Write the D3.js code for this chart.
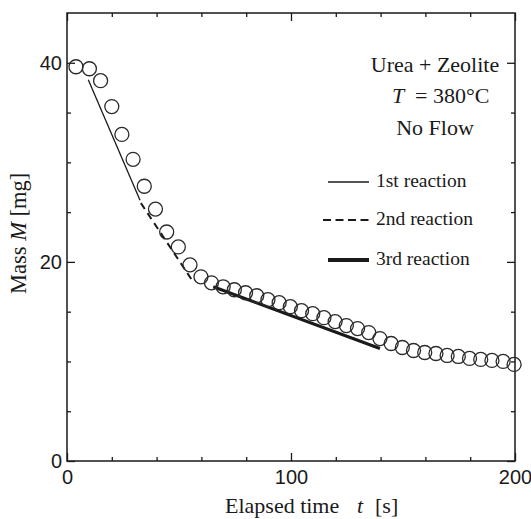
<!DOCTYPE html>
<html>
<head>
<meta charset="utf-8">
<script src="https://cdn.jsdelivr.net/npm/d3@7"></script>
<style>
  body { margin: 0; background: #fff; }
  svg { display: block; }
</style>
</head>
<body>
<div id="chart"></div>
<script>
// measured points (elapsed time [s], mass [mg])
var timeS = [4, 10, 15, 20, 24.5, 29.5, 34.5, 39.5, 44.5, 49.7, 54.9, 59.8, 64.5, 69.7,
  74.7, 79.7, 84.7, 89.7, 94.7, 99.7, 104.7, 109.7, 114.7, 119.7, 124.7, 129.7, 134.7,
  139.7, 144.7, 149.7, 154.7, 159.7, 164.7, 169.7, 174.7, 179.7, 184.7, 189.7, 194.7, 199.6];
var massMg = [39.6, 39.4, 38.2, 35.6, 32.8, 30.3, 27.6, 25.3, 23.0, 21.5, 19.7, 18.5, 17.9, 17.5,
  17.2, 16.9, 16.6, 16.2, 15.9, 15.5, 15.1, 14.8, 14.4, 14.0, 13.6, 13.3, 12.9,
  12.3, 11.8, 11.4, 11.1, 10.9, 10.8, 10.6, 10.5, 10.3, 10.2, 10.1, 10.0, 9.7];

// fitted reaction lines [t, M]
var reaction1 = [[9.5, 38.3], [32.6, 26.2]];
var reaction2 = [[33, 25.9], [56.3, 18.0]];
var reaction3 = [[65.3, 17.5], [139.7, 11.3]];

var legendNames = ["1st reaction", "2nd reaction", "3rd reaction"];
var infoLines = ["Urea + Zeolite", "T", "= 380°C", "No Flow"];

var xMajor = [0, 100, 200];
var xMinor = [20, 40, 60, 80, 120, 140, 160, 180];
var yMajor = [0, 20, 40];
var yMinor = [5, 10, 15, 25, 30, 35];

var W = 531, H = 519;
var pL = 67, pT = 13, pR = 515, pB = 461;
var serif = "'Liberation Serif', 'Times New Roman', serif";
var sans = "'Liberation Sans', Arial, sans-serif";
var ink = "#1a1a1a";

var svg = d3.select("#chart").append("svg").attr("width", W).attr("height", H);

var x = d3.scaleLinear().domain([0, 200]).range([pL, pR]);
var y = d3.scaleLinear().domain([0, 45]).range([pB, pT]);

// axes, ticks pointing inward
function styleAxis(g, size) {
  g.select(".domain").remove();
  g.selectAll(".tick line").attr("stroke", ink).attr("stroke-width", 1.3);
  g.selectAll("text").attr("fill", ink).style("font-family", sans).style("font-size", size + "px");
}

svg.append("g").attr("transform", "translate(0," + pB + ")")
  .call(d3.axisBottom(x).tickValues(xMajor).tickSize(-8).tickPadding(9).tickFormat(d3.format("d")))
  .call(styleAxis, 20);
svg.append("g").attr("transform", "translate(0," + pB + ")")
  .call(d3.axisBottom(x).tickValues(xMinor).tickSize(-4).tickFormat(""))
  .call(styleAxis, 20);
svg.append("g").attr("transform", "translate(0," + pT + ")")
  .call(d3.axisTop(x).tickValues(xMajor).tickSize(-8).tickFormat(""))
  .call(styleAxis, 20);
svg.append("g").attr("transform", "translate(0," + pT + ")")
  .call(d3.axisTop(x).tickValues(xMinor).tickSize(-4).tickFormat(""))
  .call(styleAxis, 20);

svg.append("g").attr("transform", "translate(" + pL + ",0)")
  .call(d3.axisLeft(y).tickValues(yMajor).tickSize(-8).tickPadding(5).tickFormat(d3.format("d")))
  .call(styleAxis, 20);
svg.append("g").attr("transform", "translate(" + pL + ",0)")
  .call(d3.axisLeft(y).tickValues(yMinor).tickSize(-4).tickFormat(""))
  .call(styleAxis, 20);
svg.append("g").attr("transform", "translate(" + pR + ",0)")
  .call(d3.axisRight(y).tickValues(yMajor).tickSize(-8).tickFormat(""))
  .call(styleAxis, 20);
svg.append("g").attr("transform", "translate(" + pR + ",0)")
  .call(d3.axisRight(y).tickValues(yMinor).tickSize(-4).tickFormat(""))
  .call(styleAxis, 20);

// frame
svg.append("rect")
  .attr("x", pL).attr("y", pT)
  .attr("width", pR - pL).attr("height", pB - pT)
  .attr("fill", "none").attr("stroke", ink).attr("stroke-width", 1.5);

// reaction fits
var line = d3.line().x(function(d){ return x(d[0]) }).y(function(d){ return y(d[1]) });

svg.append("path").datum(reaction1).attr("d", line)
  .attr("fill", "none").attr("stroke", ink).attr("stroke-width", 1.3);
svg.append("path").datum(reaction2).attr("d", line)
  .attr("fill", "none").attr("stroke", ink).attr("stroke-width", 2)
  .attr("stroke-dasharray", "7,5");
svg.append("path").datum(reaction3).attr("d", line)
  .attr("fill", "none").attr("stroke", ink).attr("stroke-width", 3.2);

// data circles
svg.append("g").selectAll("circle")
  .data(timeS.map(function(t, i){ return [t, massMg[i]] }))
  .join("circle")
  .attr("cx", function(d){ return x(d[0]) })
  .attr("cy", function(d){ return y(d[1]) })
  .attr("r", 7)
  .attr("fill", "none")
  .attr("stroke", "#2a2a2a")
  .attr("stroke-width", 1.3);

// condition text block
var info = svg.append("g").attr("font-family", serif).attr("font-size", 22).attr("fill", ink);
info.append("text").attr("x", 435).attr("y", 72).attr("text-anchor", "middle").text(infoLines[0]);
info.append("text").attr("x", 392).attr("y", 103).style("font-style", "italic").text(infoLines[1]);
info.append("text").attr("x", 415).attr("y", 103).text(infoLines[2]);
info.append("text").attr("x", 435).attr("y", 135).attr("text-anchor", "middle").text(infoLines[3]);

// legend
var legendY = [182, 220, 260];
var legendStyle = [
  { w: 1.3, dash: null, x0: 328 },
  { w: 2, dash: "8,4.5", x0: 323 },
  { w: 4, dash: null, x0: 328 }
];
var leg = svg.append("g");
legendNames.forEach(function(name, i){
  leg.append("line")
    .attr("x1", legendStyle[i].x0).attr("x2", 369)
    .attr("y1", legendY[i]).attr("y2", legendY[i])
    .attr("stroke", ink).attr("stroke-width", legendStyle[i].w)
    .attr("stroke-dasharray", legendStyle[i].dash);
  leg.append("text")
    .attr("x", 376).attr("y", legendY[i] + 5)
    .attr("font-family", serif).attr("font-size", 19.5).attr("fill", ink)
    .text(name);
});

// axis titles
var xt = svg.append("text")
  .attr("x", 225).attr("y", 513)
  .attr("font-family", serif).attr("font-size", 22).attr("fill", ink);
xt.append("tspan").text("Elapsed time");
xt.append("tspan").attr("x", 357).style("font-style", "italic").text("t");
xt.append("tspan").attr("x", 375).text("[s]");

var yt = svg.append("text")
  .attr("transform", "translate(26,294) rotate(-90)")
  .attr("font-family", serif).attr("font-size", 22.5).attr("fill", ink)
  .attr("xml:space", "preserve");
yt.append("tspan").text("Mass ");
yt.append("tspan").style("font-style", "italic").text("M");
yt.append("tspan").text(" [mg]");
</script>
</body>
</html>
